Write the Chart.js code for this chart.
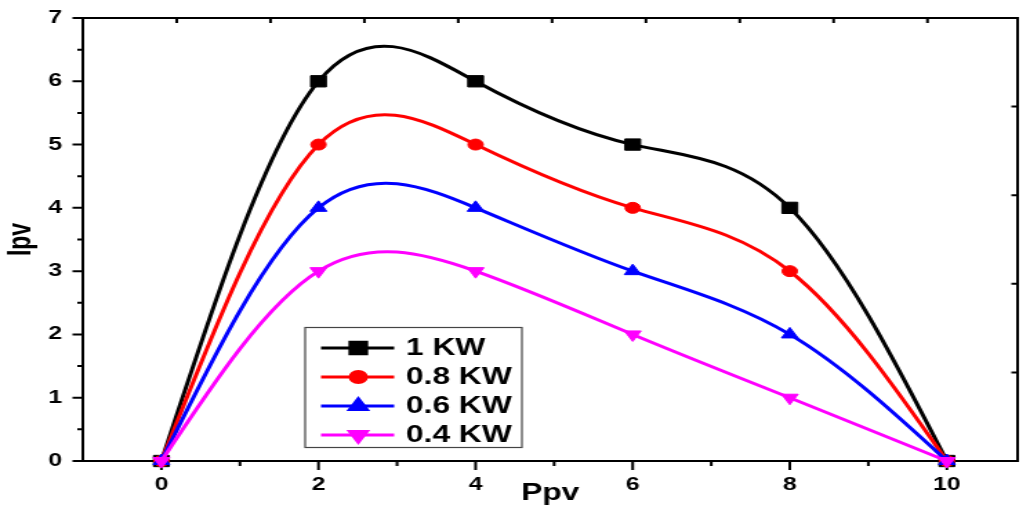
<!DOCTYPE html>
<html lang="en">
<head>
    <meta charset="UTF-8">
    <title>Ipv vs Ppv</title>
    <script src="https://cdn.jsdelivr.net/npm/chart.js"></script>
    <style>
        * { margin: 0; padding: 0; box-sizing: border-box; }
        body { background: #fff; }
        /* the original figure is stretched sideways, so the canvas is drawn narrow and widened by css */
        #wrap { width: 1023px; height: 506px; overflow: hidden; }
    </style>
</head>
<body>
    <div id="wrap">
        <canvas id="chart" width="746" height="506" style="width:1029.5px;height:506px;display:block"></canvas>
    </div>

    <script>
        // data
        const ppv = [0, 2, 4, 6, 8, 10];
        const ipv1kw = [0, 6, 6, 5, 4, 0];
        const ipv08kw = [0, 5, 5, 4, 3, 0];
        const ipv06kw = [0, 4, 4, 3, 2, 0];
        const ipv04kw = [0, 3, 3, 2, 1, 0];
        const seriesNames = ['1 KW', '0.8 KW', '0.6 KW', '0.4 KW'];

        // ticks
        const xTicks = [0, 2, 4, 6, 8, 10];
        const xMinorTicks = [1, 3, 5, 7, 9];
        const yTicks = [0, 1, 2, 3, 4, 5, 6, 7];
        const yMinorTicks = [0.5, 1.5, 2.5, 3.5, 4.5, 5.5, 6.5];
        const topTicks = [1, 2, 3, 4, 5, 6, 7, 8, 9];
        const rightTicks = [1, 2, 3, 4];

        const FONT = "'Liberation Sans', Arial, sans-serif";

        function pts(ys) {
            return ppv.map((x, i) => ({ x: x, y: ys[i] }));
        }

        function series(label, ys, color, style, radius, rotation, order) {
            return {
                label: label,
                data: pts(ys),
                borderColor: color,
                backgroundColor: color,
                borderWidth: 3,
                tension: 0.4,
                pointStyle: style,
                pointRadius: radius,
                pointRotation: rotation,
                pointBorderWidth: 1,
                pointBackgroundColor: color,
                pointBorderColor: color,
                clip: false,
                order: order
            };
        }

        // slopes of a natural cubic spline at the knots
        function splineSlopes(xs, ys) {
            const n = xs.length - 1;
            const h = [];
            for (let i = 0; i < n; i++) h[i] = xs[i + 1] - xs[i];
            const M = new Array(n + 1).fill(0);
            const cp = [], dp = [];
            for (let i = 1; i < n; i++) {
                const a = h[i - 1], b = 2 * (h[i - 1] + h[i]), c = h[i];
                const d = 6 * ((ys[i + 1] - ys[i]) / h[i] - (ys[i] - ys[i - 1]) / h[i - 1]);
                const den = b - (i > 1 ? a * cp[i - 1] : 0);
                cp[i] = c / den;
                dp[i] = (d - (i > 1 ? a * dp[i - 1] : 0)) / den;
            }
            for (let i = n - 1; i >= 1; i--) {
                M[i] = dp[i] - (i < n - 1 ? cp[i] * M[i + 1] : 0);
            }
            const m = [];
            for (let i = 0; i < n; i++) {
                m[i] = (ys[i + 1] - ys[i]) / h[i] - h[i] * (2 * M[i] + M[i + 1]) / 6;
            }
            m[n] = (ys[n] - ys[n - 1]) / h[n - 1] + h[n - 1] * (M[n - 1] + 2 * M[n]) / 6;
            return m;
        }

        // Origin-style spline: set the bezier handles chart.js uses for the line
        const splineCurves = {
            id: 'splineCurves',
            beforeDatasetDraw(chart, args) {
                const meta = args.meta;
                const line = meta.dataset;
                const points = meta.data;
                const raw = chart.data.datasets[args.index].data;
                const xs = raw.map(p => p.x);
                const ys = raw.map(p => p.y);
                const m = splineSlopes(xs, ys);
                const xs_ = meta.xScale, ys_ = meta.yScale;
                for (let i = 0; i < points.length; i++) {
                    const p = points[i];
                    const hb = i > 0 ? (xs[i] - xs[i - 1]) / 3 : 0;
                    const hf = i < xs.length - 1 ? (xs[i + 1] - xs[i]) / 3 : 0;
                    p.cp1x = xs_.getPixelForValue(xs[i] - hb);
                    p.cp1y = ys_.getPixelForValue(ys[i] - m[i] * hb);
                    p.cp2x = xs_.getPixelForValue(xs[i] + hf);
                    p.cp2y = ys_.getPixelForValue(ys[i] + m[i] * hf);
                }
                line._pointsUpdated = true;
                line._path = undefined;
            }
        };

        // draws a marker the same way for the plot and the legend
        function marker(ctx, ds, x, y) {
            Chart.helpers.drawPoint(ctx, {
                pointStyle: ds.pointStyle,
                rotation: ds.pointRotation,
                radius: ds.pointRadius,
                borderWidth: 1
            }, x, y);
        }

        // box, inward/outward tick marks
        const frame = {
            id: 'frame',
            beforeDatasetsDraw(chart) {
                const { ctx, chartArea: a, scales } = chart;
                ctx.save();
                ctx.strokeStyle = '#000';
                ctx.lineWidth = 2;
                ctx.beginPath();
                ctx.moveTo(a.left, a.top);
                ctx.lineTo(a.right, a.top);
                ctx.lineTo(a.right, a.bottom);
                ctx.lineTo(a.left, a.bottom);
                ctx.closePath();
                ctx.stroke();

                ctx.beginPath();
                xTicks.forEach(v => {
                    const px = scales.x.getPixelForValue(v);
                    ctx.moveTo(px, a.bottom); ctx.lineTo(px, a.bottom + 9);
                });
                xMinorTicks.forEach(v => {
                    const px = scales.x.getPixelForValue(v);
                    ctx.moveTo(px, a.bottom); ctx.lineTo(px, a.bottom + 5);
                });
                yTicks.forEach(v => {
                    const py = scales.y.getPixelForValue(v);
                    ctx.moveTo(a.left, py); ctx.lineTo(a.left - 7.5, py);
                });
                yMinorTicks.forEach(v => {
                    const py = scales.y.getPixelForValue(v);
                    ctx.moveTo(a.left, py); ctx.lineTo(a.left - 4, py);
                });
                topTicks.forEach(v => {
                    const px = scales.x2.getPixelForValue(v);
                    ctx.moveTo(px, a.top); ctx.lineTo(px, a.top + 5);
                });
                rightTicks.forEach(v => {
                    const py = scales.y2.getPixelForValue(v);
                    ctx.moveTo(a.right, py); ctx.lineTo(a.right - 4.5, py);
                });
                ctx.stroke();
                ctx.restore();
            }
        };

        // legend box inside the plot
        const boxLegend = {
            id: 'boxLegend',
            afterDraw(chart) {
                const ctx = chart.ctx;
                const sets = chart.data.datasets;
                ctx.save();
                ctx.strokeStyle = '#444';
                ctx.lineWidth = 1.2;
                ctx.strokeRect(221, 327.5, 157, 120);
                ctx.font = 'bold 23px ' + FONT;
                ctx.textBaseline = 'middle';
                ctx.textAlign = 'left';
                sets.forEach((ds, i) => {
                    const y = 348 + i * 29;
                    ctx.strokeStyle = ds.borderColor;
                    ctx.lineWidth = 3;
                    ctx.beginPath();
                    ctx.moveTo(232.5, y);
                    ctx.lineTo(285.5, y);
                    ctx.stroke();
                    ctx.fillStyle = ds.backgroundColor;
                    ctx.strokeStyle = ds.borderColor;
                    marker(ctx, ds, 259.5, y);
                    ctx.fillStyle = '#000';
                    ctx.fillText(ds.label, 294, y + 1);
                });
                ctx.restore();
            }
        };

        new Chart(document.getElementById('chart'), {
            type: 'line',
            data: {
                datasets: [
                    series(seriesNames[0], ipv1kw, '#000000', 'rect', 8, 0, 4),
                    series(seriesNames[1], ipv08kw, '#ff0000', 'circle', 5.5, 0, 3),
                    series(seriesNames[2], ipv06kw, '#0000ff', 'triangle', 7, 0, 2),
                    series(seriesNames[3], ipv04kw, '#ff00ff', 'triangle', 7, 180, 1)
                ]
            },
            options: {
                responsive: false,
                animation: false,
                devicePixelRatio: 1,
                layout: { padding: { left: 0, right: 4, top: 18, bottom: 0 } },
                plugins: {
                    legend: { display: false },
                    tooltip: { enabled: false }
                },
                scales: {
                    x: {
                        type: 'linear',
                        position: 'bottom',
                        min: -1,
                        max: 10.9,
                        afterBuildTicks: s => { s.ticks = xTicks.map(v => ({ value: v })); },
                        afterFit: s => { s.height = 45; s.paddingLeft = 0; s.paddingRight = 0; },
                        grid: { display: false, drawTicks: false },
                        border: { display: false },
                        ticks: {
                            padding: 13,
                            color: '#000',
                            font: { family: FONT, size: 18, weight: 'bold' }
                        },
                        title: {
                            display: true,
                            text: 'Ppv',
                            color: '#000',
                            padding: { top: 0, bottom: 1 },
                            font: { family: FONT, size: 23, weight: 'bold', lineHeight: 1 }
                        }
                    },
                    y: {
                        type: 'linear',
                        position: 'left',
                        min: 0,
                        max: 7,
                        afterBuildTicks: s => { s.ticks = yTicks.map(v => ({ value: v })); },
                        afterFit: s => { s.width = 60; s.paddingTop = 0; s.paddingBottom = 0; },
                        grid: { display: false, drawTicks: false },
                        border: { display: false },
                        ticks: {
                            padding: 15,
                            color: '#000',
                            font: { family: FONT, size: 18, weight: 'bold' }
                        },
                        title: {
                            display: true,
                            text: 'Ipv',
                            color: '#000',
                            padding: { top: 3.7, bottom: 0 },
                            font: { family: FONT, size: 23, weight: 'bold', lineHeight: 1 }
                        }
                    },
                    x2: {
                        type: 'linear',
                        position: 'top',
                        display: false,
                        min: 0,
                        max: 9.96
                    },
                    y2: {
                        type: 'linear',
                        position: 'right',
                        display: false,
                        min: 0,
                        max: 5
                    }
                }
            },
            plugins: [splineCurves, frame, boxLegend]
        });
    </script>
</body>
</html>
